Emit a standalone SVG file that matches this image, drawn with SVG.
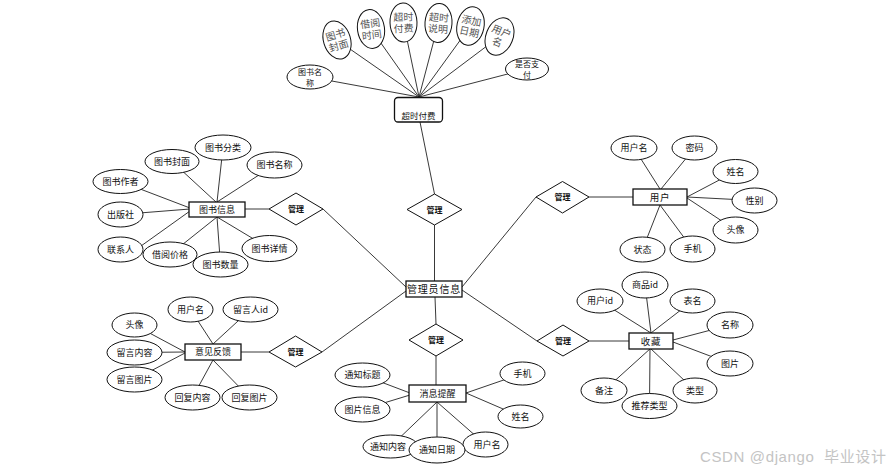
<svg xmlns="http://www.w3.org/2000/svg" width="892" height="471" viewBox="0 0 892 471">
<style>
.bg{fill:#ffffff}
.ln{stroke:#222;stroke-width:0.9;fill:none}
.e{fill:#fff;stroke:#111;stroke-width:1}
.r{fill:#fff;stroke:#111;stroke-width:1.3}
.d{fill:#fff;stroke:#111;stroke-width:1}
.t{font-family:"Noto Sans CJK SC","Liberation Sans",sans-serif;font-size:9px;fill:#111;text-anchor:middle}
.t2{font-family:"Noto Sans CJK SC","Liberation Sans",sans-serif;font-size:8px;fill:#111;text-anchor:middle}
.dt{font-family:"Noto Sans CJK SC",sans-serif;font-size:8px;font-weight:bold;fill:#111;text-anchor:middle}
.st{font-family:"Liberation Serif","Noto Sans CJK SC",serif;font-size:10px;fill:#555;text-anchor:middle}
.wm{font-family:"Liberation Sans","Noto Sans CJK SC",sans-serif;font-size:15px;fill:#c4c4c4}
</style>
<rect class="bg" x="0" y="0" width="892" height="471"/>
<g id="connectors">
<line class="ln" x1="420" y1="122" x2="434.5" y2="194"/>
<line class="ln" x1="434.5" y1="225" x2="434.5" y2="281"/>
<line class="ln" x1="323" y1="209" x2="406" y2="287"/>
<line class="ln" x1="322" y1="352" x2="406" y2="291"/>
<line class="ln" x1="536" y1="197" x2="462" y2="287"/>
<line class="ln" x1="537" y1="341" x2="462" y2="290"/>
<line class="ln" x1="435" y1="297" x2="436" y2="324"/>
<line class="ln" x1="436" y1="356" x2="436" y2="385"/>
<line class="ln" x1="245" y1="209" x2="269" y2="209"/>
<line class="ln" x1="241" y1="352" x2="269" y2="352"/>
<line class="ln" x1="589" y1="197" x2="633" y2="197"/>
<line class="ln" x1="589" y1="341" x2="629" y2="341"/>
<line class="ln" x1="310" y1="77" x2="419" y2="97"/>
<line class="ln" x1="337" y1="40" x2="419" y2="97"/>
<line class="ln" x1="371" y1="29" x2="419" y2="97"/>
<line class="ln" x1="403.5" y1="22.5" x2="419" y2="97"/>
<line class="ln" x1="438.5" y1="23" x2="419" y2="97"/>
<line class="ln" x1="470.5" y1="26" x2="419" y2="97"/>
<line class="ln" x1="499.5" y1="36.5" x2="419" y2="97"/>
<line class="ln" x1="527" y1="69" x2="419" y2="97"/>
<line class="ln" x1="223" y1="147.5" x2="217" y2="202"/>
<line class="ln" x1="172" y1="161.5" x2="216" y2="202"/>
<line class="ln" x1="274.5" y1="165" x2="217" y2="202"/>
<line class="ln" x1="120.5" y1="181.5" x2="190" y2="208"/>
<line class="ln" x1="120.5" y1="214.5" x2="190" y2="209"/>
<line class="ln" x1="141" y1="246" x2="190" y2="211"/>
<line class="ln" x1="170" y1="254.5" x2="217" y2="217"/>
<line class="ln" x1="220.5" y1="264.5" x2="217" y2="217"/>
<line class="ln" x1="269.5" y1="248.5" x2="217" y2="217"/>
<line class="ln" x1="634" y1="148" x2="660" y2="189"/>
<line class="ln" x1="694.5" y1="148" x2="661" y2="189"/>
<line class="ln" x1="735.5" y1="171.5" x2="687" y2="197"/>
<line class="ln" x1="754.5" y1="200.5" x2="687" y2="197"/>
<line class="ln" x1="735.5" y1="230" x2="687" y2="198"/>
<line class="ln" x1="642.5" y1="249.5" x2="660" y2="205"/>
<line class="ln" x1="692.5" y1="249" x2="660" y2="205"/>
<line class="ln" x1="190.5" y1="309.5" x2="213" y2="344"/>
<line class="ln" x1="250.5" y1="309.5" x2="213" y2="344"/>
<line class="ln" x1="134.5" y1="325" x2="185" y2="352"/>
<line class="ln" x1="134.5" y1="352.5" x2="185" y2="352"/>
<line class="ln" x1="134.5" y1="379.5" x2="185" y2="353"/>
<line class="ln" x1="192.5" y1="397.5" x2="213" y2="360"/>
<line class="ln" x1="249.5" y1="397.5" x2="213" y2="360"/>
<line class="ln" x1="362.5" y1="375" x2="410" y2="393"/>
<line class="ln" x1="362.5" y1="409.5" x2="410" y2="395"/>
<line class="ln" x1="522.5" y1="373.5" x2="466" y2="393"/>
<line class="ln" x1="520.5" y1="416.5" x2="466" y2="393"/>
<line class="ln" x1="390.5" y1="446.5" x2="437" y2="402"/>
<line class="ln" x1="437" y1="450" x2="437" y2="402"/>
<line class="ln" x1="485.5" y1="444.5" x2="437" y2="402"/>
<line class="ln" x1="600" y1="301" x2="651" y2="333"/>
<line class="ln" x1="645" y1="285" x2="651" y2="333"/>
<line class="ln" x1="692.5" y1="301" x2="651" y2="333"/>
<line class="ln" x1="730" y1="325" x2="673" y2="340"/>
<line class="ln" x1="730" y1="363.5" x2="673" y2="342"/>
<line class="ln" x1="604" y1="390.5" x2="651" y2="348"/>
<line class="ln" x1="649.5" y1="406" x2="650" y2="348"/>
<line class="ln" x1="695" y1="390.5" x2="650" y2="348"/>
</g>

<g id="admin">
<rect class="r" x="406" y="281" width="56" height="16"/>
<text class="t" x="434" y="292.5" style="font-size:10px;letter-spacing:0.8px">管理员信息</text>
</g>

<g id="rel-overdue"><polygon class="d" points="407,209.5 434.5,194 462,209.5 434.5,225"/><text class="dt" x="434.5" y="212.5">管理</text></g>
<g id="rel-book"><polygon class="d" points="269,209 296,193 323,209 296,225"/><text class="dt" x="296" y="212">管理</text></g>
<g id="rel-user"><polygon class="d" points="536,197 562.5,181.5 589,197 562.5,213"/><text class="dt" x="562.5" y="200">管理</text></g>
<g id="rel-feedback"><polygon class="d" points="269,352 295.5,336 322,352 295.5,367"/><text class="dt" x="295.5" y="355">管理</text></g>
<g id="rel-message"><polygon class="d" points="409,340 436,324 463,340 436,356"/><text class="dt" x="436" y="343">管理</text></g>
<g id="rel-fav"><polygon class="d" points="537,341 563,325 589,341 563,356"/><text class="dt" x="563" y="344">管理</text></g>

<g id="overdue">
<rect class="r" x="394.5" y="97.5" width="48" height="24.5" rx="3.5"/>
<text class="t" x="418.5" y="118.5" style="font-size:8.5px">超时付费</text>
</g>
<g id="overdue-attrs">
<g transform="translate(337,40) rotate(-17)"><ellipse class="e" rx="13.5" ry="19.5"/><text class="st" y="-1.8">图书</text><text class="st" y="9.6">封面</text></g>
<g transform="translate(371,29) rotate(-8)"><ellipse class="e" rx="13.5" ry="19.5"/><text class="st" y="-1.8">借阅</text><text class="st" y="9.6">时间</text></g>
<g transform="translate(403.5,22.5) rotate(-2)"><ellipse class="e" rx="13.5" ry="19.5"/><text class="st" y="-1.8">超时</text><text class="st" y="9.6">付费</text></g>
<g transform="translate(438.5,23) rotate(4)"><ellipse class="e" rx="13.5" ry="19.5"/><text class="st" y="-1.8">超时</text><text class="st" y="9.6">说明</text></g>
<g transform="translate(470.5,26) rotate(12)"><ellipse class="e" rx="13.5" ry="19.5"/><text class="st" y="-1.8">添加</text><text class="st" y="9.6">日期</text></g>
<g transform="translate(499.5,36.5) rotate(22)"><ellipse class="e" rx="13.5" ry="19.5"/><text class="st" y="-1.8">用户</text><text class="st" y="9.6">名</text></g>
<g><ellipse class="e" cx="310" cy="77" rx="23" ry="12"/><text class="t2" x="310" y="75">图书名</text><text class="t2" x="310" y="86">称</text></g>
<g><ellipse class="e" cx="527" cy="69" rx="21.5" ry="11"/><text class="t2" x="527" y="66.5">是否支</text><text class="t2" x="527" y="77.5">付</text></g>
</g>

<g id="book">
<rect class="r" x="189" y="202" width="56" height="15"/>
<text class="t" x="217" y="212.8">图书信息</text>
</g>
<g id="book-attrs">
<ellipse class="e" cx="223" cy="147.5" rx="28" ry="12.5"/><text class="t" x="223" y="150.8">图书分类</text>
<ellipse class="e" cx="172" cy="161.5" rx="27" ry="12"/><text class="t" x="172" y="164.8">图书封面</text>
<ellipse class="e" cx="274.5" cy="165" rx="27.5" ry="13"/><text class="t" x="274.5" y="168.3">图书名称</text>
<ellipse class="e" cx="120.5" cy="181.5" rx="27.5" ry="12"/><text class="t" x="120.5" y="184.8">图书作者</text>
<ellipse class="e" cx="120.5" cy="214.5" rx="22.5" ry="12.5"/><text class="t" x="120.5" y="217.8">出版社</text>
<ellipse class="e" cx="120.5" cy="249.5" rx="22.5" ry="12.5"/><text class="t" x="120.5" y="252.8">联系人</text>
<ellipse class="e" cx="170" cy="254.5" rx="27" ry="12.5"/><text class="t" x="170" y="257.8">借阅价格</text>
<ellipse class="e" cx="269.5" cy="248.5" rx="27.5" ry="13"/><text class="t" x="269.5" y="251.8">图书详情</text>
<ellipse class="e" cx="220.5" cy="264.5" rx="27.5" ry="12.5"/><text class="t" x="220.5" y="267.8">图书数量</text>
</g>

<g id="user">
<rect class="r" x="633" y="189" width="54" height="16"/>
<text class="t" x="660" y="200.5" style="font-size:9.5px;letter-spacing:0.8px">用户</text>
</g>
<g id="user-attrs">
<ellipse class="e" cx="634" cy="148" rx="23" ry="12"/><text class="t" x="634" y="151.3">用户名</text>
<ellipse class="e" cx="694.5" cy="148" rx="22.5" ry="12"/><text class="t" x="694.5" y="151.3">密码</text>
<ellipse class="e" cx="735.5" cy="171.5" rx="22.5" ry="12"/><text class="t" x="735.5" y="174.8">姓名</text>
<ellipse class="e" cx="754.5" cy="200.5" rx="22.5" ry="12.5"/><text class="t" x="754.5" y="203.8">性别</text>
<ellipse class="e" cx="735.5" cy="230" rx="22.5" ry="13"/><text class="t" x="735.5" y="233.3">头像</text>
<ellipse class="e" cx="642.5" cy="249.5" rx="22.5" ry="12.5"/><text class="t" x="642.5" y="252.8">状态</text>
<ellipse class="e" cx="692.5" cy="249" rx="22.5" ry="13"/><text class="t" x="692.5" y="252.3">手机</text>
</g>

<g id="feedback">
<rect class="r" x="185" y="344" width="56" height="16"/>
<text class="t" x="213" y="355.3">意见反馈</text>
</g>
<g id="feedback-attrs">
<ellipse class="e" cx="190.5" cy="309.5" rx="22.5" ry="12.5"/><text class="t" x="190.5" y="312.8">用户名</text>
<ellipse class="e" cx="250.5" cy="309.5" rx="27.5" ry="12.5"/><text class="t" x="250.5" y="312.8">留言人id</text>
<ellipse class="e" cx="134.5" cy="325" rx="22.5" ry="12"/><text class="t" x="134.5" y="328.3">头像</text>
<ellipse class="e" cx="134.5" cy="352.5" rx="27.5" ry="12.5"/><text class="t" x="134.5" y="355.8">留言内容</text>
<ellipse class="e" cx="134.5" cy="379.5" rx="27.5" ry="12.5"/><text class="t" x="134.5" y="382.8">留言图片</text>
<ellipse class="e" cx="192.5" cy="397.5" rx="27.5" ry="12.5"/><text class="t" x="192.5" y="400.8">回复内容</text>
<ellipse class="e" cx="249.5" cy="397.5" rx="27.5" ry="12.5"/><text class="t" x="249.5" y="400.8">回复图片</text>
</g>

<g id="message">
<rect class="r" x="409" y="385" width="57" height="17"/>
<text class="t" x="437.5" y="396.8">消息提醒</text>
</g>
<g id="message-attrs">
<ellipse class="e" cx="362.5" cy="375" rx="27.5" ry="12"/><text class="t" x="362.5" y="378.3">通知标题</text>
<ellipse class="e" cx="362.5" cy="409.5" rx="27.5" ry="12.5"/><text class="t" x="362.5" y="412.8">图片信息</text>
<ellipse class="e" cx="522.5" cy="373.5" rx="22.5" ry="11.5"/><text class="t" x="522.5" y="376.8">手机</text>
<ellipse class="e" cx="520.5" cy="416.5" rx="22.5" ry="11.5"/><text class="t" x="520.5" y="419.8">姓名</text>
<ellipse class="e" cx="390.5" cy="446.5" rx="27.5" ry="11.5"/><text class="t" x="388" y="449.8">通知内容</text>
<ellipse class="e" cx="485.5" cy="444.5" rx="22.5" ry="12.5"/><text class="t" x="487" y="447.8">用户名</text>
<ellipse class="e" cx="437" cy="450" rx="28" ry="13"/><text class="t" x="437" y="453.3">通知日期</text>
</g>

<g id="favorite">
<rect class="r" x="629" y="333" width="44" height="16"/>
<text class="t" x="651" y="344.5" style="font-size:9.5px;letter-spacing:0.8px">收藏</text>
</g>
<g id="favorite-attrs">
<ellipse class="e" cx="600" cy="301" rx="23" ry="12"/><text class="t" x="600" y="304.3">用户id</text>
<ellipse class="e" cx="645" cy="285" rx="23" ry="13"/><text class="t" x="645" y="288.3">商品id</text>
<ellipse class="e" cx="692.5" cy="301" rx="22.5" ry="12"/><text class="t" x="692.5" y="304.3">表名</text>
<ellipse class="e" cx="730" cy="325" rx="23" ry="13"/><text class="t" x="730" y="328.3">名称</text>
<ellipse class="e" cx="730" cy="363.5" rx="23" ry="12.5"/><text class="t" x="730" y="366.8">图片</text>
<ellipse class="e" cx="604" cy="390.5" rx="23" ry="12.5"/><text class="t" x="604" y="393.8">备注</text>
<ellipse class="e" cx="695" cy="390.5" rx="22" ry="12.5"/><text class="t" x="695" y="393.8">类型</text>
<ellipse class="e" cx="649.5" cy="406" rx="27.5" ry="12.5"/><text class="t" x="649.5" y="409.3">推荐类型</text>
</g>

<text class="wm" x="700" y="462" xml:space="preserve" textLength="186" lengthAdjust="spacing">CSDN @django  毕业设计</text>
</svg>
